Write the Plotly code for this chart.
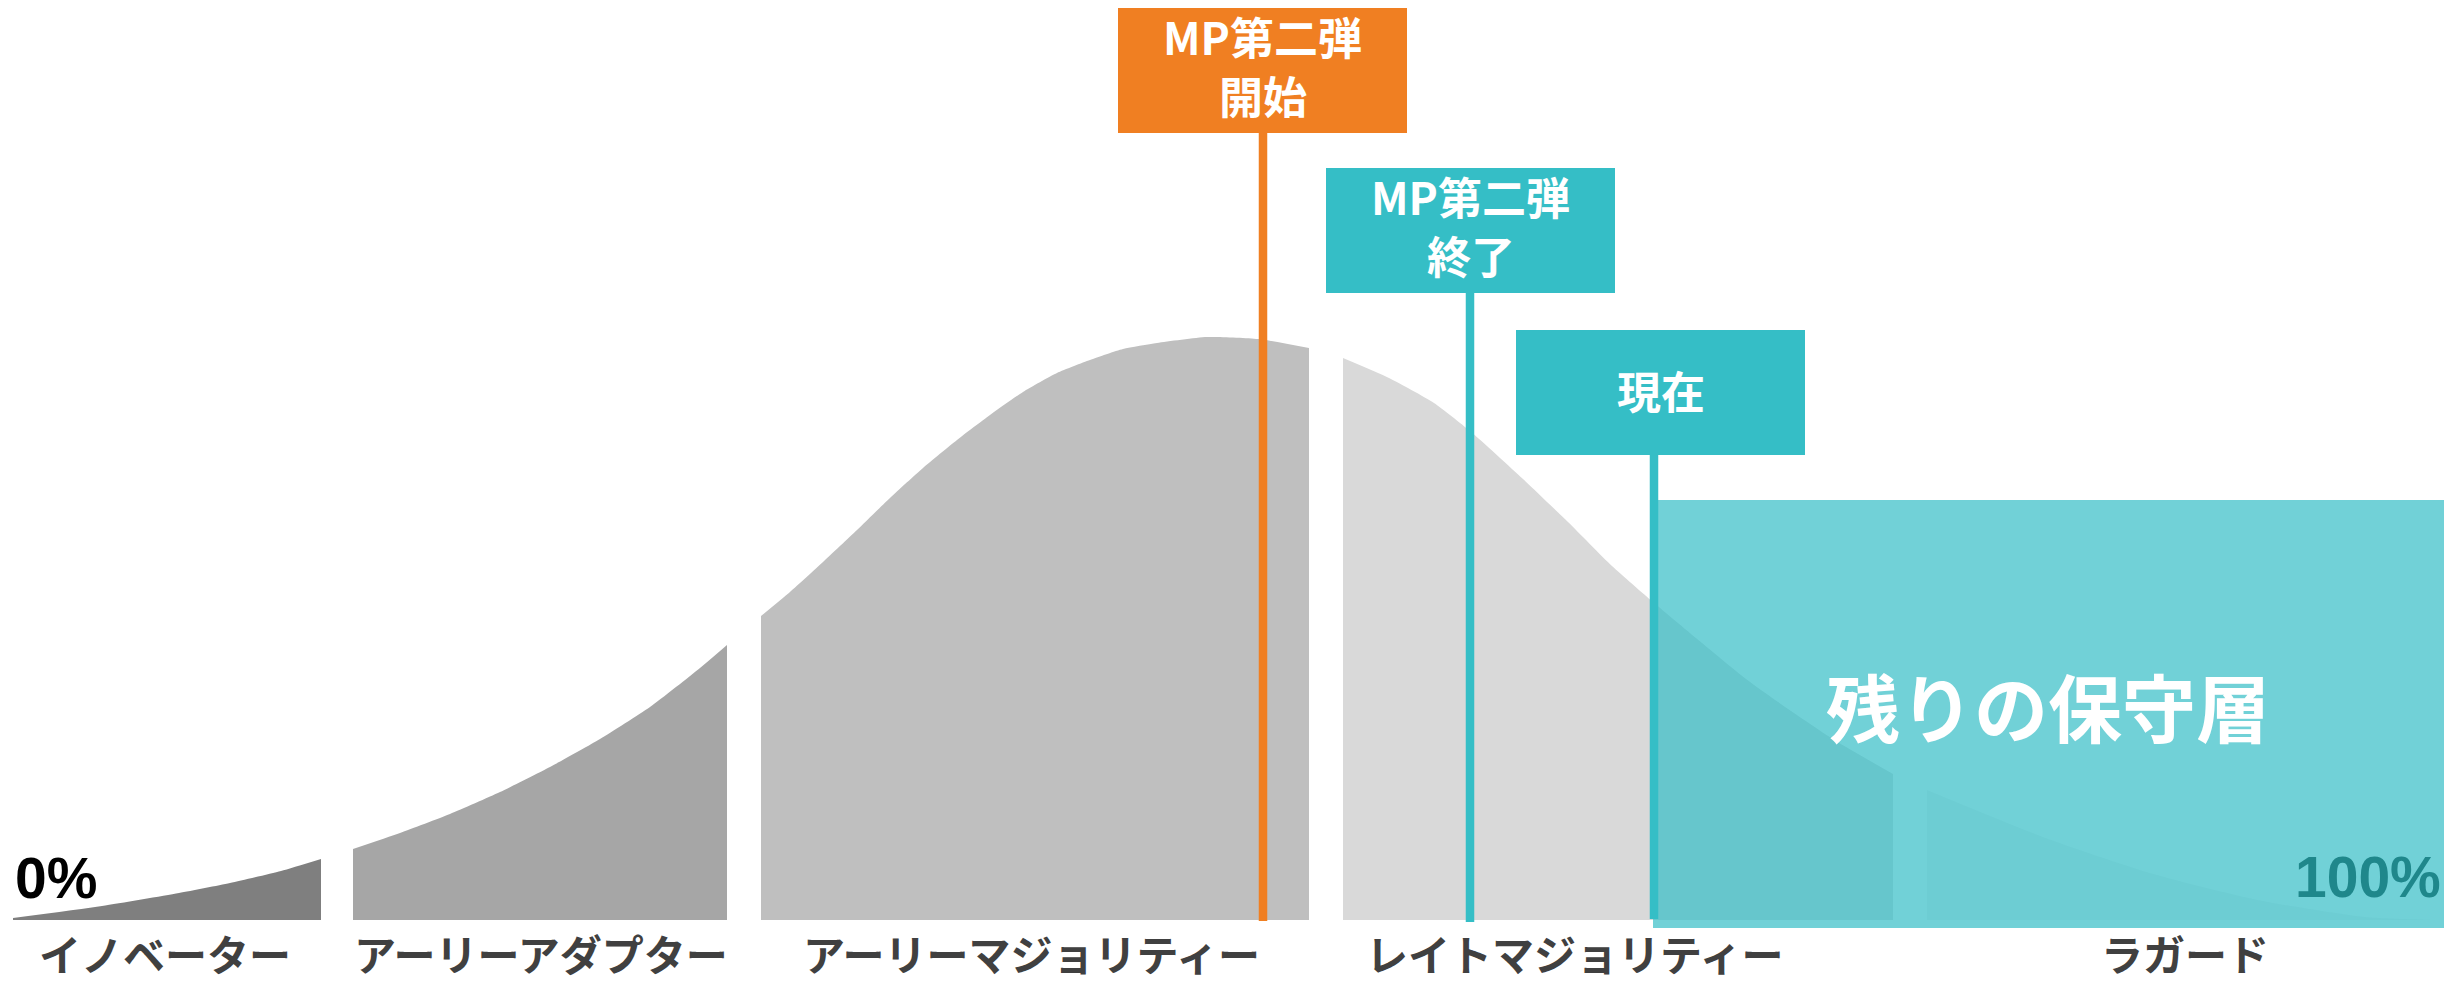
import plotly.graph_objects as go

# ---- data (x position, curve height above baseline) ----
segment_names = ["イノベーター", "アーリーアダプター", "アーリーマジョリティー", "レイトマジョリティー", "ラガード"]

innovator_x = [13, 102, 179, 230, 281, 321]
innovator_h = [2, 14, 27, 37, 49, 61]

early_adopter_x = [353, 400, 450, 500, 550, 600, 650, 700, 727]
early_adopter_h = [71, 87, 106, 128, 153, 181, 213, 252, 275]

early_majority_x = [761, 790, 823, 857, 890, 923, 957, 990, 1023, 1057, 1090, 1123, 1157, 1207, 1258, 1309]
early_majority_h = [304, 328, 358, 390, 422, 452, 480, 505, 528, 547, 560, 571, 577, 583, 581, 572]

late_majority_x = [1343, 1389, 1434, 1470, 1523, 1568, 1612, 1653, 1702, 1746, 1791, 1836, 1893]
late_majority_h = [562, 542, 517, 489, 441, 398, 354, 318, 277, 241, 209, 179, 146]

laggard_x = [1927, 2043, 2150, 2258, 2365, 2442]
laggard_h = [130, 83, 47, 20, 3, 0]

label_x = [165, 541, 1031, 1574, 2185]

event_lines = [["MP第二弾", "開始"], ["MP第二弾", "終了"], ["現在"]]
event_x = [1263, 1470, 1654]

remaining_label = "残りの保守層"
start_label = "0%"
end_label = "100%"

# ---- styles ----
seg_colors = ["#7f7f7f", "#a6a6a6", "#bfbfbf", "#d9d9d9", "#f2f2f2"]
ORANGE = "#F07F22"
TEAL = "#35BEC6"
event_colors = [ORANGE, TEAL, TEAL]
JP = "Noto Sans CJK JP"

segments = [
    (innovator_x, innovator_h),
    (early_adopter_x, early_adopter_h),
    (early_majority_x, early_majority_h),
    (late_majority_x, late_majority_h),
    (laggard_x, laggard_h),
]

fig = go.Figure()
for (xs, hs), col, name in zip(segments, seg_colors, segment_names):
    fig.add_trace(go.Scatter(
        x=xs, y=hs, mode="lines", fill="tozeroy", fillcolor=col,
        line=dict(width=0, color=col, shape="spline", smoothing=0.6),
        name=name, hoverinfo="skip", showlegend=False,
    ))

shapes = []
# remaining conservative layer overlay
shapes.append(dict(type="rect", xref="x", yref="y", x0=1653, x1=2444, y0=-8, y1=420,
                   fillcolor=TEAL, opacity=0.7, line=dict(width=0), layer="above"))

# event boxes and lines
box_cx = [1262.5, 1470.5, 1660.5]
box_top = [912, 752, 590]
box_w, box_h = 289, 125
line_bottom = [-1, -2, 1]
line_gap = 59
annotations = []
for lines, ex, col, cx, top, lb in zip(event_lines, event_x, event_colors, box_cx, box_top, line_bottom):
    shapes.append(dict(type="line", xref="x", yref="y", x0=ex, x1=ex, y0=lb, y1=top - box_h,
                       line=dict(color=col, width=8.5), layer="above"))
    shapes.append(dict(type="rect", xref="x", yref="y", x0=cx - box_w / 2, x1=cx + box_w / 2,
                       y0=top - box_h, y1=top, fillcolor=col, line=dict(width=0), layer="above"))
    n = len(lines)
    mid = top - box_h / 2 + (5 if n > 1 else 3)
    for i, txt in enumerate(lines):
        yy = mid + ((n - 1) / 2 - i) * line_gap
        annotations.append(dict(x=cx, y=yy, xref="x", yref="y", text=txt, showarrow=False,
                                font=dict(family=JP, size=44, color="white", weight="bold"),
                                xanchor="center", yanchor="middle"))

# bottom category labels
for name, lx in zip(segment_names, label_x):
    annotations.append(dict(x=lx, y=-65, xref="x", yref="y", text=name, showarrow=False,
                            font=dict(family=JP, size=42, color="#404040", weight="bold"),
                            xanchor="center", yanchor="bottom"))

annotations.append(dict(x=2048, y=216, xref="x", yref="y", text=remaining_label, showarrow=False,
                        font=dict(family=JP, size=74, color="white", weight="bold"),
                        xanchor="center", yanchor="middle"))
annotations.append(dict(x=13, y=42, xref="x", yref="y", text=start_label, showarrow=False,
                        font=dict(family="Liberation Sans", size=57, color="#000000", weight="bold"),
                        xanchor="left", yanchor="middle"))
annotations.append(dict(x=2443, y=43, xref="x", yref="y", text=end_label, showarrow=False,
                        font=dict(family="Liberation Sans", size=57, color="#1F878B", weight="bold"),
                        xanchor="right", yanchor="middle"))

fig.update_layout(
    width=2461, height=985,
    margin=dict(l=0, r=0, t=0, b=0),
    paper_bgcolor="white", plot_bgcolor="white",
    xaxis=dict(range=[0, 2461], visible=False, fixedrange=True),
    yaxis=dict(range=[-65, 920], visible=False, fixedrange=True),
    shapes=shapes, annotations=annotations, showlegend=False,
)

fig.write_html("out.html", config={"displayModeBar": False},
               post_script="document.body.style.margin='0';document.body.style.overflow='hidden';")
